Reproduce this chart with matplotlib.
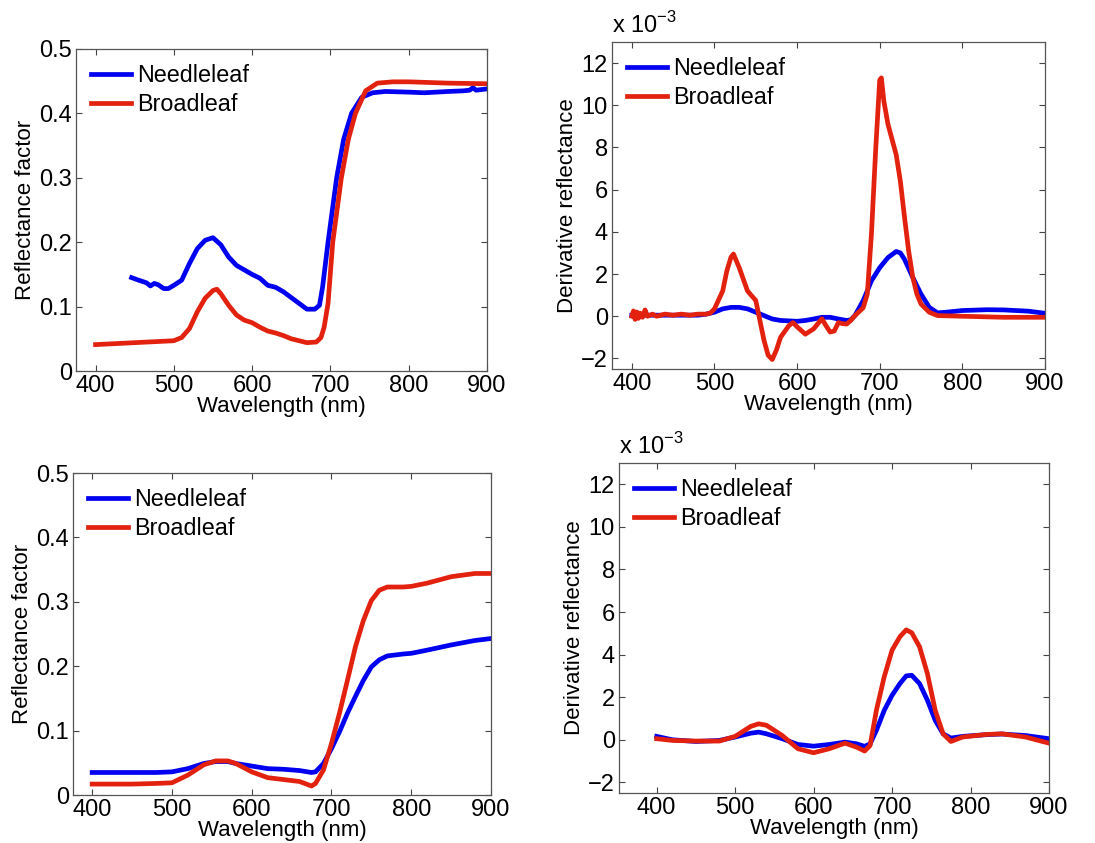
import matplotlib
matplotlib.use("Agg")
import matplotlib.pyplot as plt

plt.rcParams['font.family'] = ['Liberation Sans', 'DejaVu Sans']
plt.rcParams['mathtext.fontset'] = 'custom'
plt.rcParams['mathtext.rm'] = 'Liberation Sans'

BLUE = '#0000f0'
RED = '#e3210f'

# --- top left: reflectance spectra (canopy 1) ---
wl_a_needle = [446, 455, 465, 470, 475, 480, 487, 493, 500, 510, 520, 530, 540, 550,
               560, 570, 580, 590, 600, 610, 620, 630, 640, 650, 660, 670, 680,
               686, 690, 697, 708, 717, 727, 740, 754, 770, 800, 820, 850, 870,
               878, 882, 886, 900]
refl_a_needle = [0.145, 0.141, 0.137, 0.132, 0.136, 0.134, 0.128, 0.128, 0.133, 0.141,
                 0.167, 0.190, 0.203, 0.207, 0.196, 0.177, 0.164, 0.157, 0.150, 0.144,
                 0.133, 0.130, 0.123, 0.114, 0.105, 0.096, 0.096, 0.102, 0.130, 0.200,
                 0.300, 0.360, 0.400, 0.425, 0.432, 0.434, 0.433, 0.432, 0.434, 0.435,
                 0.436, 0.440, 0.436, 0.438]
wl_a_broad = [400, 450, 500, 510, 520, 530, 540, 550, 555, 560, 570, 580, 590, 600,
              610, 620, 630, 640, 650, 660, 670, 682, 688, 692, 697, 703, 714, 723,
              732, 745, 760, 780, 800, 850, 900]
refl_a_broad = [0.041, 0.044, 0.047, 0.052, 0.066, 0.092, 0.113, 0.125, 0.127, 0.120,
                0.102, 0.087, 0.079, 0.075, 0.068, 0.062, 0.059, 0.055, 0.050, 0.047,
                0.044, 0.045, 0.052, 0.068, 0.105, 0.200, 0.300, 0.360, 0.400, 0.435,
                0.447, 0.449, 0.449, 0.447, 0.446]

# --- top right: first derivative (canopy 1), units of 1e-3 ---
wl_b_needle = [400, 420, 440, 460, 480, 490, 500, 510, 520, 530, 540, 550, 560, 570,
               580, 600, 610, 620, 630, 640, 650, 660, 665, 670, 680, 690, 700, 710,
               720, 725, 730, 740, 750, 760, 770, 780, 800, 830, 850, 880, 900]
der_b_needle = [0.05, 0.05, 0.05, 0.05, 0.05, 0.10, 0.19, 0.35, 0.42, 0.42, 0.35, 0.19,
                0.03, -0.13, -0.20, -0.24, -0.20, -0.13, -0.05, -0.05, -0.13, -0.20,
                -0.17, 0.03, 0.74, 1.68, 2.30, 2.78, 3.07, 3.00, 2.70, 1.84, 1.05,
                0.42, 0.16, 0.19, 0.27, 0.31, 0.30, 0.24, 0.14]
wl_b_broad = [400, 402, 404, 406, 408, 410, 413, 416, 419, 425, 430, 440, 450, 460,
              470, 480, 490, 495, 500, 510, 515, 520, 523, 530, 540, 545, 550, 555,
              560, 565, 570, 575, 580, 590, 595, 600, 610, 620, 630, 635, 640, 645,
              650, 655, 660, 665, 670, 680, 685, 690, 695, 700, 702, 705, 710, 720,
              725, 730, 735, 740, 745, 750, 760, 770, 800, 850, 900]
der_b_broad = [0.00, 0.25, -0.15, 0.20, -0.10, 0.15, -0.05, 0.30, 0.00, 0.10, 0.00,
               0.10, 0.05, 0.10, 0.05, 0.10, 0.10, 0.15, 0.35, 1.20, 2.15, 2.80, 2.95,
               2.30, 1.20, 0.97, 0.75, -0.20, -1.15, -1.85, -2.05, -1.60, -1.00,
               -0.45, -0.30, -0.50, -0.85, -0.60, -0.12, -0.45, -0.75, -0.70, -0.30,
               -0.35, -0.37, -0.20, 0.03, 0.40, 1.05, 3.90, 7.80, 11.20, 11.30, 10.20,
               9.10, 7.65, 6.40, 4.70, 3.10, 1.85, 1.05, 0.58, 0.19, 0.03, 0.00,
               -0.05, -0.05]

# --- bottom left: reflectance spectra (canopy 2) ---
wl_c = [400, 450, 480, 500, 520, 540, 555, 570, 580, 600, 620, 640, 660, 675, 680,
        690, 700, 710, 720, 730, 740, 750, 760, 770, 790, 800, 820, 850, 880, 900]
refl_c_needle = [0.035, 0.035, 0.035, 0.036, 0.041, 0.049, 0.052, 0.052, 0.049, 0.045,
                 0.041, 0.040, 0.038, 0.035, 0.036, 0.049, 0.072, 0.098, 0.127, 0.153,
                 0.178, 0.199, 0.210, 0.216, 0.219, 0.220, 0.225, 0.233, 0.240, 0.243]
refl_c_broad = [0.017, 0.017, 0.018, 0.019, 0.031, 0.047, 0.053, 0.053, 0.049, 0.036,
                0.027, 0.024, 0.021, 0.014, 0.018, 0.039, 0.080, 0.127, 0.178, 0.230,
                0.271, 0.302, 0.318, 0.323, 0.323, 0.324, 0.329, 0.339, 0.344, 0.344]

# --- bottom right: first derivative (canopy 2), units of 1e-3 ---
wl_d = [400, 420, 450, 480, 500, 520, 530, 540, 560, 580, 600, 620, 640, 655, 665,
        672, 680, 690, 700, 710, 718, 725, 735, 745, 755, 765, 775, 790, 820, 840,
        870, 900]
der_d_needle = [0.16, 0.00, -0.08, -0.03, 0.13, 0.31, 0.36, 0.28, 0.05, -0.22, -0.30,
                -0.22, -0.11, -0.19, -0.31, -0.19, 0.44, 1.38, 2.09, 2.64, 3.00, 3.03,
                2.64, 1.86, 0.91, 0.28, 0.08, 0.16, 0.24, 0.27, 0.20, 0.05]
der_d_broad = [0.05, -0.03, -0.06, -0.06, 0.16, 0.63, 0.75, 0.68, 0.20, -0.42, -0.61,
               -0.42, -0.16, -0.35, -0.53, -0.27, 1.38, 2.96, 4.21, 4.84, 5.16, 5.03,
               4.37, 3.11, 1.38, 0.28, -0.08, 0.13, 0.25, 0.28, 0.13, -0.16]

TICK_FS = 17
LABEL_FS = 16
LEG_FS = 16.8


def style_axes(ax, xlim, ylim, yticks, ylabel, ytick_fmt=None):
    ax.set_xlim(*xlim)
    ax.set_ylim(*ylim)
    ax.set_xticks([400, 500, 600, 700, 800, 900])
    ax.set_yticks(yticks)
    if ytick_fmt is not None:
        ax.set_yticklabels([ytick_fmt(v) for v in yticks])
    ax.tick_params(direction='in', top=True, right=True, length=4, width=0.8,
                   color='#444444', labelsize=TICK_FS, pad=3)
    for s in ax.spines.values():
        s.set_color('#555555')
        s.set_linewidth(0.9)
    ax.set_xlabel('Wavelength (nm)', fontsize=LABEL_FS, labelpad=-1)
    ax.set_ylabel(ylabel, fontsize=LABEL_FS, labelpad=2)
    ax.legend(loc='upper left', frameon=False, fontsize=LEG_FS, handlelength=1.7,
              handletextpad=0.25, labelspacing=0.27, borderaxespad=0.25)


def add_scale_note(ax):
    # MATLAB-style exponent note above the y axis
    ax.text(0.0, 1.012, r'x 10$^{\mathregular{-3}}$', transform=ax.transAxes,
            fontsize=17, ha='left', va='bottom')


fig = plt.figure(figsize=(10.95, 8.43), dpi=100)

ax1 = fig.add_axes([0.0694, 0.5599, 0.3753, 0.3820])
ax1.plot(wl_a_needle, refl_a_needle, color=BLUE, lw=3.4, label='Needleleaf')
ax1.plot(wl_a_broad, refl_a_broad, color=RED, lw=3.4, label='Broadleaf')
style_axes(ax1, (375, 900), (0, 0.5), [0, 0.1, 0.2, 0.3, 0.4, 0.5], 'Reflectance factor',
           lambda v: '0' if v == 0 else f'{v:.1f}')

ax2 = fig.add_axes([0.5589, 0.5623, 0.3954, 0.3879])
ax2.plot(wl_b_needle, der_b_needle, color=BLUE, lw=3.4, label='Needleleaf')
ax2.plot(wl_b_broad, der_b_broad, color=RED, lw=3.4, label='Broadleaf')
style_axes(ax2, (376, 900), (-2.5, 13), [-2, 0, 2, 4, 6, 8, 10, 12], 'Derivative reflectance')
add_scale_note(ax2)

ax3 = fig.add_axes([0.0667, 0.0569, 0.3817, 0.3820])
ax3.plot(wl_c, refl_c_needle, color=BLUE, lw=3.4, label='Needleleaf')
ax3.plot(wl_c, refl_c_broad, color=RED, lw=3.4, label='Broadleaf')
style_axes(ax3, (376, 900), (0, 0.5), [0, 0.1, 0.2, 0.3, 0.4, 0.5], 'Reflectance factor',
           lambda v: '0' if v == 0 else f'{v:.1f}')

ax4 = fig.add_axes([0.5653, 0.0593, 0.3927, 0.3915])
ax4.plot(wl_d, der_d_needle, color=BLUE, lw=3.4, label='Needleleaf')
ax4.plot(wl_d, der_d_broad, color=RED, lw=3.4, label='Broadleaf')
style_axes(ax4, (352, 900), (-2.5, 13), [-2, 0, 2, 4, 6, 8, 10, 12], 'Derivative reflectance')
add_scale_note(ax4)

fig.savefig('out.png', dpi=100)
